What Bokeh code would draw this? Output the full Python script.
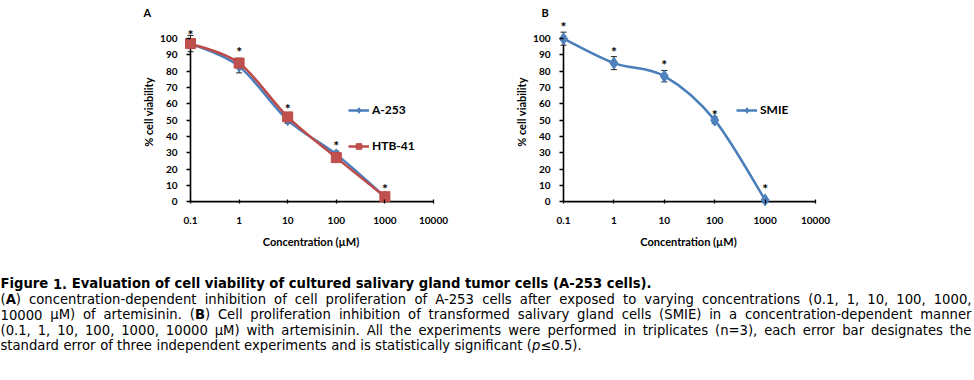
import re
import numpy as np
from bokeh.plotting import figure
from bokeh.models import (ColumnDataSource, FixedTicker, NumeralTickFormatter, Whisker,
                          Legend, LegendItem, TeeHead)
from bokeh.layouts import column, row
from bokeh.embed import file_html
from bokeh.resources import INLINE
from bokeh.core.properties import value

# ---------------- data ----------------
conc = [0.1, 1, 10, 100, 1000]
a253 = [97, 83, 50, 29, 3]
a253_err = [5, 4, 2, 2, 1]
htb41 = [97, 85, 52, 27, 3]
htb41_err = [3, 3, 2, 2, 1]
a_star = [105, 94.5, 59.5, 37, 10.5]
smie = [100, 85, 77, 50, 1]
smie_err = [4, 4, 3.5, 2, 0.5]
b_star = [110, 94.5, 86.5, 56, 10.5]
x_ticks = [0.1, 1, 10, 100, 1000, 10000]
y_ticks = list(range(0, 101, 10))

BLUE_L, BLUE_F = "#4A7EBB", "#4F81BD"
RED_L, RED_F = "#BE4B48", "#C0504D"
FONT = "Lato"

# geometry (pixels)
CH_H = 260
FR_TOP, FR_BOT = 17, 206
Y0, Y1 = -3, 113


def smooth_src(xs, ys, t=1 / 6):
    lx = np.log10(np.asarray(xs, float))
    y = np.asarray(ys, float)
    n = len(lx)
    d = {k: [] for k in ["x0", "y0", "x1", "y1", "cx0", "cy0", "cx1", "cy1"]}
    for i in range(n - 1):
        p0 = max(i - 1, 0)
        p3 = min(i + 2, n - 1)
        d["x0"].append(10 ** lx[i]); d["y0"].append(y[i])
        d["x1"].append(10 ** lx[i + 1]); d["y1"].append(y[i + 1])
        d["cx0"].append(10 ** (lx[i] + (lx[i + 1] - lx[p0]) * t))
        d["cy0"].append(y[i] + (y[i + 1] - y[p0]) * t)
        d["cx1"].append(10 ** (lx[i + 1] - (lx[p3] - lx[i]) * t))
        d["cy1"].append(y[i + 1] - (y[p3] - y[i]) * t)
    return ColumnDataSource(d)


def make_panel(x_axis_px, x_end_px, fig_left, fig_w, panel_label, label_left_px):
    ppd = (x_end_px - x_axis_px) / 5.0          # pixels per decade
    fl = x_axis_px - 9                          # frame left
    fr = x_end_px + 7                           # frame right
    xs = x_ticks[0] * 10 ** (-9 / ppd)
    xe = x_ticks[-1] * 10 ** (7 / ppd)
    p = figure(width=fig_w, height=CH_H, x_axis_type="log",
               x_range=(xs, xe), y_range=(Y0, Y1),
               min_border_left=fl - fig_left, min_border_right=fig_left + fig_w - fr,
               min_border_top=FR_TOP, min_border_bottom=CH_H - FR_BOT,
               toolbar_location=None, output_backend="svg")
    p.outline_line_color = None
    p.xgrid.visible = False
    p.ygrid.visible = False
    p.background_fill_color = "white"
    p.border_fill_color = "white"

    p.title.text = panel_label
    p.title.align = "left"
    p.title.offset = label_left_px - fl
    p.title.standoff = -3
    p.title.text_font = FONT
    p.title.text_font_style = "bold"
    p.title.text_font_size = "11px"
    p.title.text_color = "black"

    p.xaxis.ticker = FixedTicker(ticks=x_ticks, minor_ticks=[])
    p.yaxis.ticker = FixedTicker(ticks=y_ticks, minor_ticks=[])
    p.xaxis.formatter = NumeralTickFormatter(format="0.[0]")
    for ax in (p.xaxis, p.yaxis):
        ax.axis_line_color = None
        ax.major_tick_line_color = "black"
        ax.major_tick_line_width = 1.3
        ax.minor_tick_line_color = None
        ax.major_label_text_font = FONT
        ax.major_label_text_font_style = "bold"
        ax.major_label_text_font_size = "10px"
        ax.major_label_text_color = "black"
        ax.axis_label_text_font = FONT
        ax.axis_label_text_font_style = "bold"
        ax.axis_label_text_font_size = "11px"
        ax.axis_label_text_color = "black"
    # ticks shifted from the frame edge onto the axis lines at x=0.1 / y=0
    p.yaxis.major_tick_in = 9
    p.yaxis.major_tick_out = -5
    p.yaxis.major_label_standoff = 4
    p.yaxis.axis_label_standoff = 2
    p.xaxis.major_tick_in = 7
    p.xaxis.major_tick_out = -3
    p.xaxis.major_label_standoff = 10
    p.xaxis.axis_label_standoff = 8
    p.xaxis.axis_label = "Concentration (µM)"
    p.yaxis.axis_label = "% cell viability"

    # axis lines through x = 0.1 and y = 0
    p.segment(x0=[x_ticks[0], x_ticks[0]], y0=[y_ticks[0], y_ticks[0]],
              x1=[x_ticks[0], x_ticks[-1]], y1=[y_ticks[-1], y_ticks[0]],
              line_color="black", line_width=1.6)
    return p, fl


def add_series(p, ys, errs, line_col, fill_col, marker, size):
    r_line = p.bezier(x0="x0", y0="y0", x1="x1", y1="y1", cx0="cx0", cy0="cy0",
                      cx1="cx1", cy1="cy1", source=smooth_src(conc, ys),
                      line_color=line_col, line_width=2.5)
    src = ColumnDataSource(dict(x=conc, y=ys,
                                upper=[v + e for v, e in zip(ys, errs)],
                                lower=[v - e for v, e in zip(ys, errs)]))
    p.add_layout(Whisker(base="x", upper="upper", lower="lower", source=src,
                         line_color="#222222", line_width=1,
                         upper_head=TeeHead(size=6, line_color="#222222", line_width=1),
                         lower_head=TeeHead(size=6, line_color="#222222", line_width=1)))
    r_mark = p.scatter("x", "y", source=src, marker=marker, size=size,
                       fill_color=fill_col, line_color=line_col, line_width=1)
    return [r_line, r_mark]


def add_stars(p, ys):
    p.text(x=conc, y=ys, text=["*"] * len(conc), text_align="center",
           text_baseline="middle", y_offset=4, text_font=value(FONT),
           text_font_style="bold", text_font_size="14px", text_color="black")


def style_legend(leg):
    leg.border_line_color = None
    leg.background_fill_alpha = 0
    leg.padding = 0
    leg.margin = 0
    leg.glyph_width = 21
    leg.glyph_height = 14
    leg.label_height = 14
    leg.label_standoff = 3
    leg.spacing = 21
    leg.label_text_font = FONT
    leg.label_text_font_style = "bold"
    leg.label_text_font_size = "12px"
    leg.label_text_color = "black"


# ---------------- panel A ----------------
pA, flA = make_panel(190, 433, 0, 473, "A", 143)
rA1 = add_series(pA, a253, a253_err, BLUE_L, BLUE_F, "diamond", 11)
rA2 = add_series(pA, htb41, htb41_err, RED_L, RED_F, "square", 10)
add_stars(pA, a_star)
legA = Legend(items=[LegendItem(label="A-253", renderers=rA1),
                     LegendItem(label="HTB-41", renderers=rA2)],
              location=(348 - flA, FR_BOT - 153))
style_legend(legA)
pA.add_layout(legA)

# ---------------- panel B ----------------
pB, flB = make_panel(563, 815, 473, 501, "B", 541)
rB = add_series(pB, smie, smie_err, BLUE_L, BLUE_F, "diamond", 12)
add_stars(pB, b_star)
legB = Legend(items=[LegendItem(label="SMIE", renderers=rB)],
              location=(736 - flB, FR_BOT - 117))
style_legend(legB)
pB.add_layout(legB)

# ---------------- caption ----------------
cap_lines = [
    "**Figure 1. Evaluation of cell viability of cultured salivary gland tumor cells (A-253 cells).**",
    "(**A**) concentration-dependent inhibition of cell proliferation of A-253 cells after exposed to varying concentrations (0.1, 1, 10, 100, 1000,",
    "10000 µM) of artemisinin. (**B**) Cell proliferation inhibition of transformed salivary gland cells (SMIE) in a concentration-dependent manner",
    "(0.1, 1, 10, 100, 1000, 10000 µM) with artemisinin. All the experiments were performed in triplicates (n=3), each error bar designates the",
    "standard error of three independent experiments and is statistically significant (_p_≤0.5).",
]
cap_justify = [False, True, True, True, False]
cap_baselines = [283, 298.5, 314, 329.5, 345]

REG = {' ': 651, '(': 799, ')': 799, ',': 651, '-': 739, '.': 651, '=': 1716, '≤': 1716,
       'µ': 1300, 'A': 1401, 'B': 1405, 'C': 1430, 'D': 1577, 'E': 1294, 'F': 1178,
       'I': 604, 'M': 1767, 'S': 1300, 'a': 1255, 'b': 1300, 'c': 1126, 'd': 1300,
       'e': 1260, 'f': 721, 'g': 1300, 'h': 1298, 'i': 569, 'j': 569, 'k': 1186,
       'l': 569, 'm': 1995, 'n': 1298, 'o': 1253, 'p': 1300, 'q': 1300, 'r': 842,
       's': 1067, 't': 803, 'u': 1298, 'v': 1212, 'w': 1675, 'x': 1212, 'y': 1212,
       'z': 1075}
BOLD = {' ': 713, '(': 936, ')': 936, ',': 778, '-': 852, '.': 778, 'A': 1585,
        'B': 1561, 'E': 1399, 'F': 1399, 'a': 1382, 'b': 1466, 'c': 1214, 'd': 1466,
        'e': 1389, 'f': 891, 'g': 1466, 'h': 1458, 'i': 702, 'l': 702, 'm': 2134,
        'n': 1458, 'o': 1407, 'r': 1010, 's': 1219, 't': 979, 'u': 1458, 'v': 1333,
        'w': 1878, 'y': 1333}
for d_ in "0123456789":
    REG[d_] = 1303
    BOLD[d_] = 1425
SIZE = {"normal": 13.2, "italic": 13.2, "bold": 13.2}


def tw(t, s):
    tab = BOLD if s == "bold" else REG
    return sum(tab.get(c, 1300) for c in t) / 2048 * SIZE[s]


def pieces(word, base):
    out = []
    for m in re.finditer(r"\*\*(.+?)\*\*|_(.+?)_|([^*_]+)", word):
        if m.group(1):
            out.append((m.group(1), "bold"))
        elif m.group(2):
            out.append((m.group(2), "italic"))
        else:
            out.append((m.group(3), base))
    return out


CAP_TOP, CAP_H, CAP_W = CH_H, 380 - CH_H, 974
cx, cy, ct, cs, cf = [], [], [], [], []
for line, just, base_y in zip(cap_lines, cap_justify, cap_baselines):
    base = "normal"
    if line.startswith("**") and line.endswith("**") and line.count("**") == 2:
        base = "bold"
        line = line[2:-2]
    words = [pieces(w, base) for w in line.split(" ")]
    widths = [sum(tw(t, s) for t, s in w) for w in words]
    if just:
        gap = (971 - sum(widths)) / (len(words) - 1)
    else:
        gap = tw(" ", base)
    x = 0.0
    for w, ww in zip(words, widths):
        xx = x
        for t, s in w:
            cx.append(xx); cy.append(CAP_H - (base_y - CAP_TOP)); ct.append(t)
            cs.append(s); cf.append("%.1fpx" % SIZE[s])
            xx += tw(t, s)
        x += ww + gap
cap_src = ColumnDataSource(dict(x=cx, y=cy, text=ct, style=cs, size=cf))

pC = figure(width=CAP_W, height=CAP_H, x_range=(0, CAP_W), y_range=(0, CAP_H),
            min_border=0, toolbar_location=None, output_backend="svg")
pC.axis.visible = False
pC.grid.visible = False
pC.outline_line_color = None
pC.text(x="x", y="y", text="text", source=cap_src, text_font_style="style",
        text_font_size="size", text_font=value("DejaVu Sans"),
        text_baseline="alphabetic", text_align="left", text_color="black")

layout = column(row(pA, pB), pC)
open("out.html", "w").write(file_html(layout, INLINE))
